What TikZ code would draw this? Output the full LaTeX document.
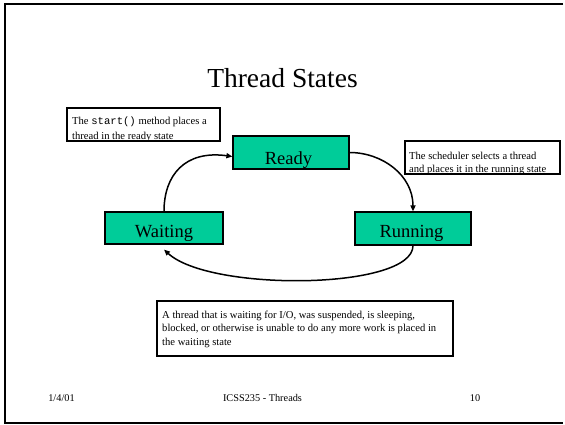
\documentclass[tikz,border=0pt]{standalone}
\usepackage{fontspec}
\setmainfont{Liberation Serif}
\setmonofont{Liberation Mono}
\usetikzlibrary{arrows.meta}
\definecolor{stategreen}{RGB}{0,204,153}
\tikzset{
  statebox/.style={draw=black, fill=stategreen, line width=1.2pt, minimum width=116pt, minimum height=33pt, inner sep=0pt},
  notebox/.style={draw=black, line width=1.6pt, inner sep=0pt},
  statelabel/.style={anchor=base, inner sep=0pt, font=\fontsize{18.5}{20}\selectfont},
  notetext/.style={anchor=base west, inner sep=0pt, font=\fontsize{10.6}{12}\selectfont},
  foot/.style={anchor=base, inner sep=0pt, font=\fontsize{10.3}{12}\selectfont},
  conn/.style={line width=1.5pt, -{Triangle[length=6pt,width=5pt]}},
  frame/.style={line width=2pt}
}
\begin{document}
\begin{tikzpicture}[x=1pt,y=-1pt]
\useasboundingbox (0,0) rectangle (565,424);
% slide frame (open on the right)
\coordinate (ftl) at (5,4);
\coordinate (ftr) at (563,4);
\coordinate (fbl) at (5,422.5);
\coordinate (fbr) at (563,422.5);
\draw[frame] (ftr) -- (ftl) -- (fbl) -- (fbr);
% title
\node[anchor=base, inner sep=0pt, font=\fontsize{27.5}{30}\selectfont] (title) at (282.5,87) {Thread States};
% state boxes
\node[statebox] (ready) at (291,152.5) {};
\node[statelabel] (readyl) at (288.5,164.3) {Ready};
\node[statebox] (running) at (413,228.5) {};
\node[statelabel] (runningl) at (411.5,237.7) {Running};
\node[statebox, minimum width=118pt, minimum height=32pt] (waiting) at (164,228) {};
\node[statelabel] (waitingl) at (164,237.7) {Waiting};
% note 1
\node[notebox, minimum width=153pt, minimum height=33pt] (note1) at (143.5,124.5) {};
\node[notetext] (n1a) at (72,124.5) {The \texttt{start()} method places a};
\node[notetext] (n1b) at (72,139.5) {thread in the ready state};
% note 2
\node[notebox, minimum width=155pt, minimum height=33pt] (note2) at (482.5,157.5) {};
\node[notetext] (n2a) at (409,159.5) {The scheduler selects a thread};
\node[notetext] (n2b) at (409,172) {and places it in the running state};
% note 3
\node[notebox, minimum width=296pt, minimum height=55pt] (note3) at (305,328.5) {};
\node[notetext] (n3a) at (162,318) {A thread that is waiting for I/O, was suspended, is sleeping,};
\node[notetext] (n3b) at (162,331.5) {blocked, or otherwise is unable to do any more work is placed in};
\node[notetext] (n3c) at (162,345) {the waiting state};
% connectors
\draw[conn] (waiting.north) .. controls (164,175) and (185,150) .. ([yshift=-4pt]ready.west);
\draw[conn] (ready.east) .. controls (382,152.5) and (413,175) .. (running.north);
\draw[conn] (running.south) .. controls (413,290) and (210,292) .. ([yshift=-5pt]waiting.south);
% footer
\node[foot] (date) at (61.5,401.5) {1/4/01};
\node[foot] (course) at (262.5,401.5) {ICSS235 - Threads};
\node[foot] (page) at (475,401.5) {10};
\end{tikzpicture}
\end{document}
